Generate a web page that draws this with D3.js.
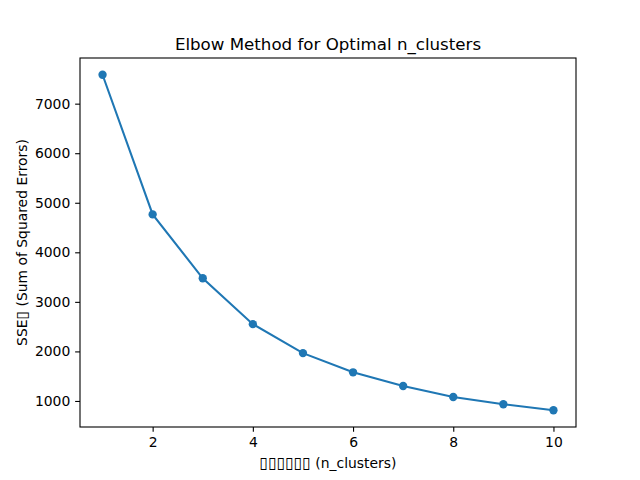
<!DOCTYPE html>
<html><head><meta charset="utf-8">
<script src="https://cdn.jsdelivr.net/npm/d3@7"></script>
<style>body{margin:0;background:#fff}svg{display:block}text{font-family:"DejaVu Sans",sans-serif;fill:#000;white-space:pre}</style>
</head><body>
<svg id="c" width="640" height="480"></svg>
<script>
const nClusters = [1,2,3,4,5,6,7,8,9,10];
const sse = [7583,4765,3476,2550,1966,1578,1302,1080,934,813];
const xTicks = [2,4,6,8,10];
const yTicks = [1000,2000,3000,4000,5000,6000,7000];
const title = "Elbow Method for Optimal n_clusters";
const xLabelParts = ["\u25AF\u25AF\u25AF\u25AF\u25AF\u25AF", " (n_clusters)"];
const yLabelParts = ["SSE", "\u25AF", " (Sum of Squared Errors)"];

const W=640,H=480, L=80, R=576, T=58, B=427;
const svg=d3.select("#c");
const xmin=d3.min(nClusters), xmax=d3.max(nClusters), xr=xmax-xmin;
const ymin=d3.min(sse), ymax=d3.max(sse), yr=ymax-ymin;
const x=d3.scaleLinear().domain([xmin-0.05*xr,xmax+0.05*xr]).range([L,R]);
const y=d3.scaleLinear().domain([ymin-0.05*yr,ymax+0.05*yr]).range([B,T]);
const tl=4.86, fs=13.9;

const xa=svg.append("g").attr("transform",`translate(0,${B})`)
  .call(d3.axisBottom(x).tickValues(xTicks).tickFormat(d3.format("d")).tickSizeOuter(0).tickSize(tl).tickPadding(4.86));
const ya=svg.append("g").attr("transform",`translate(${L},0)`)
  .call(d3.axisLeft(y).tickValues(yTicks).tickFormat(d3.format("d")).tickSizeOuter(0).tickSize(tl).tickPadding(4.86));
[xa,ya].forEach(a=>{a.select(".domain").remove();a.selectAll("line").attr("stroke","#000").attr("stroke-width",1.1);
  a.selectAll("text").attr("font-size",fs).attr("font-family","DejaVu Sans");});

svg.append("rect").attr("x",L).attr("y",T).attr("width",R-L).attr("height",B-T)
  .attr("fill","none").attr("stroke","#000").attr("stroke-width",1.1);

const line=d3.line().x((d,i)=>x(nClusters[i])).y(d=>y(d));
svg.append("path").datum(sse).attr("d",line).attr("fill","none").attr("stroke","#1f77b4").attr("stroke-width",2.08);
svg.selectAll("circle.m").data(sse).enter().append("circle").attr("class","m")
  .attr("cx",(d,i)=>x(nClusters[i])).attr("cy",d=>y(d)).attr("r",4.17).attr("fill","#1f77b4");

svg.append("text").attr("x",(L+R)/2).attr("y",50).attr("text-anchor","middle").attr("font-size",16.67).text(title);

// tofu runs (missing glyphs in the original) drawn with the vertical-rectangle character
function label(g, parts, cx){
  const t=g.append("text").attr("font-size",fs).attr("y",0).attr("text-anchor","middle").attr("x",cx).attr("xml:space","preserve");
  parts.forEach(p=>{
    const s=t.append("tspan").text(p);
    if(/^\u25AF+$/.test(p)) s.attr("font-size",fs*1.12);
  });
}
label(svg.append("g").attr("transform","translate(0,468)"), xLabelParts, (L+R)/2);
label(svg.append("g").attr("transform",`translate(27,0) rotate(-90)`), yLabelParts, -(T+B)/2);
</script>
</body></html>
